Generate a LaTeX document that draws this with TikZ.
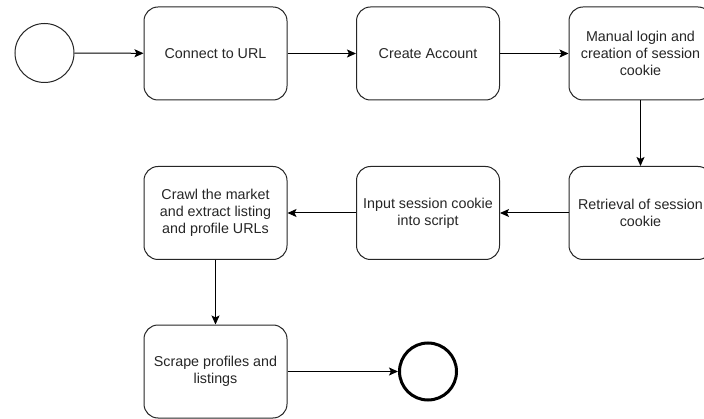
\documentclass[tikz,border=0pt]{standalone}
\usepackage{fontspec}
\setmainfont{Liberation Sans}
\usetikzlibrary{arrows.meta}
\begin{document}
\begin{tikzpicture}[x=1pt,y=1pt,
  proc/.style={draw=black!85, line width=1pt, rounded corners=14pt, minimum width=143pt, minimum height=93pt, inner sep=0pt, align=center, font=\fontsize{14.3}{17.2}\selectfont, text=black!85},
  evstart/.style={draw=black!85, circle, line width=1pt, minimum size=59pt, inner sep=0pt},
  evend/.style={draw=black, circle, line width=3pt, minimum size=57pt, inner sep=0pt},
  flow/.style={draw=black, line width=1pt, -{Stealth[length=9pt,width=8pt,inset=2pt]}}]
\useasboundingbox (0,0) rectangle (704,418);
\clip (0,0) rectangle (704,418);
\fill[white] (0,0) rectangle (704,418);
\node[evstart] (s) at (44.5,365) {};
\node[proc] (b1) at (215.5,364.5) {Connect to URL};
\node[proc] (b2) at (428,364.5) {Create Account};
\node[proc] (b3) at (640.5,364.5) {Manual login and\\creation of session\\cookie};
\node[proc] (b4) at (640.5,205) {Retrieval of session\\cookie};
\node[proc] (b5) at (428,205) {Input session cookie\\into script};
\node[proc] (b6) at (215.5,205) {Crawl the market\\and extract listing\\and profile URLs};
\node[proc] (b7) at (215.5,46.5) {Scrape profiles and\\listings};
\node[evend] (e) at (428,46.5) {};
\draw[flow] (s) -- (b1);
\draw[flow] (b1) -- (b2);
\draw[flow] (b2) -- (b3);
\draw[flow] (b3) -- (b4);
\draw[flow] (b4) -- (b5);
\draw[flow] (b5) -- (b6);
\draw[flow] (b6) -- (b7);
\draw[flow] (b7) -- (e);
\end{tikzpicture}
\end{document}
